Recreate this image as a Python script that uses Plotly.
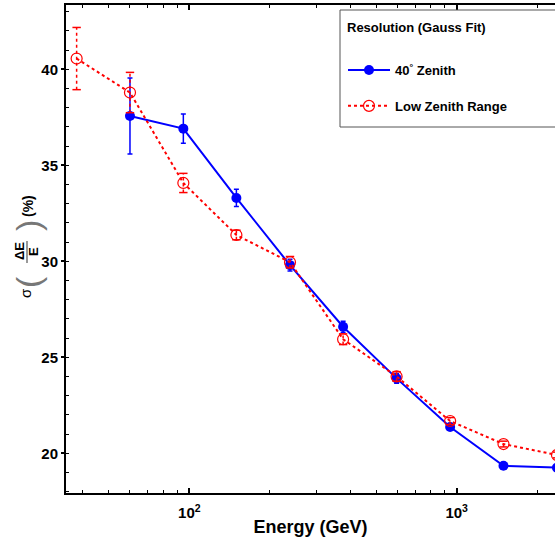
import plotly.graph_objects as go

# ---- data ----
energy_40 = [60, 95, 150, 238, 376, 596, 945, 1496, 2371]
sigma_40 = [37.57, 36.91, 33.30, 29.80, 26.59, 23.90, 21.37, 19.35, 19.25]
err_40 = [1.98, 0.76, 0.45, 0.30, 0.28, 0.25, 0.15, 0.10, 0.10]

energy_low = [37.9, 60, 95, 150, 238, 376, 596, 945, 1496, 2371]
sigma_low = [40.56, 38.79, 34.08, 31.37, 29.95, 25.94, 24.00, 21.68, 20.48, 19.91]
err_low = [1.62, 1.05, 0.50, 0.25, 0.30, 0.28, 0.25, 0.18, 0.15, 0.15]

name_40 = "40<sup>°</sup> Zenith"
name_low = "Low Zenith Range"
legend_title = "Resolution (Gauss Fit)"
x_title = "Energy (GeV)"
x_tickvals = [100, 1000]
x_ticktext = ["10<sup>2</sup>", "10<sup>3</sup>"]
x_minor = [40, 50, 60, 70, 80, 90, 200, 300, 400, 500, 600, 700, 800, 900, 2000, 3000]
y_tickvals = [20, 25, 30, 35, 40]

BLUE = "#0000ff"
RED = "#ff0000"
FONT = "Liberation Sans"

fig = go.Figure()

# blue series
fig.add_trace(go.Scatter(
    x=energy_40, y=sigma_40, mode="lines+markers", name=name_40,
    legendgroup="a",
    line=dict(color=BLUE, width=2),
    marker=dict(color=BLUE, size=10, symbol="circle"),
    error_y=dict(type="data", array=err_40, color=BLUE, thickness=1.5, width=2.5),
))

# red dashed error bars built from the data
ex, ey = [], []
for e, v, d in zip(energy_low, sigma_low, err_low):
    ex += [e, e, None]
    ey += [v - d, v + d, None]
fig.add_trace(go.Scatter(
    x=ex, y=ey, mode="lines", showlegend=False, hoverinfo="skip",
    line=dict(color=RED, width=1.5, dash="dot"),
))
cx, cy = [], []
for e, v, d in zip(energy_low, sigma_low, err_low):
    cx += [e, e]
    cy += [v - d, v + d]
fig.add_trace(go.Scatter(
    x=cx, y=cy, mode="markers", showlegend=False, hoverinfo="skip",
    marker=dict(symbol="line-ew-open", size=6, color=RED,
                line=dict(color=RED, width=1.5)),
))

# red series
fig.add_trace(go.Scatter(
    x=energy_low, y=sigma_low, mode="lines+markers", name=name_low,
    legendgroup="b",
    line=dict(color=RED, width=2, dash="dot"),
    marker=dict(color=RED, size=11, symbol="circle-open",
                line=dict(color=RED, width=1.2)),
))

L, R, T, B = 66, 0, 5, 47
W, H = 555, 540
pw, ph = W - L - R, H - T - B


def px(xp):
    return (xp - L) / pw


def py(yp):
    return (H - B - yp) / ph


fig.update_layout(
    width=W, height=H,
    margin=dict(l=L, r=R, t=T, b=B, autoexpand=False),
    paper_bgcolor="white", plot_bgcolor="white",
    font=dict(family=FONT, color="black"),
    showlegend=True,
    legend=dict(
        x=px(343), y=py(55), xanchor="left", yanchor="top",
        bgcolor="rgba(0,0,0,0)", borderwidth=0,
        font=dict(family=FONT, size=13, weight="bold", color="black"),
        tracegroupgap=16, traceorder="grouped", itemwidth=42,
    ),
    xaxis=dict(
        type="log", range=[1.5389, 3.3676],
        showline=True, linecolor="black", linewidth=2, mirror="ticks",
        ticks="inside", ticklen=5, tickwidth=1.5, tickcolor="black",
        tickvals=x_tickvals, ticktext=x_ticktext,
        tickfont=dict(family=FONT, size=15, weight="bold"),
        ticklabelstandoff=5,
        minor=dict(tickvals=x_minor, ticks="inside", ticklen=3,
                   tickwidth=1, tickcolor="black"),
        showgrid=False, zeroline=False,
        title=dict(text=x_title, font=dict(family=FONT, size=18, weight="bold"),
                   standoff=0),
    ),
    yaxis=dict(
        range=[17.93, 43.35],
        showline=True, linecolor="black", linewidth=2, mirror=False,
        ticks="outside", ticklen=3, tickwidth=1.5, tickcolor="black",
        tickvals=y_tickvals,
        tickfont=dict(family=FONT, size=15, weight="bold"),
        minor=dict(dtick=1, ticks="inside", ticklen=3, tickwidth=1,
                   tickcolor="black"),
        showgrid=False, zeroline=False,
    ),
)

# legend frame (extends past the right edge as in the reference) and title
fig.add_shape(type="rect", xref="paper", yref="paper",
              x0=px(340), x1=px(575), y0=py(127), y1=py(10),
              line=dict(color="#555555", width=1), fillcolor="white", layer="above")
fig.add_annotation(
    text=legend_title, xref="paper", yref="paper", x=px(345), y=py(28),
    xanchor="left", yanchor="middle", showarrow=False,
    font=dict(family=FONT, size=13, weight="bold", color="black"),
)

# y-axis title pieces (sigma, big parentheses, fraction, percent)
ann = [
    dict(text="σ", x=25, y=293, size=15, weight="normal", color="black"),
    dict(text="(", x=28, y=282, size=34, weight="normal", color="#777777"),
    dict(text="<b>ΔE</b>", x=20, y=251, size=13, weight="bold", color="black"),
    dict(text="<b>E</b>", x=34, y=252, size=13, weight="bold", color="black"),
    dict(text=")", x=28, y=226, size=34, weight="normal", color="#777777"),
    dict(text="<b>(%)</b>", x=28, y=206, size=14, weight="bold", color="black"),
]
for a in ann:
    fig.add_annotation(
        text=a["text"], xref="paper", yref="paper", x=px(a["x"]), y=py(a["y"]),
        xanchor="center", yanchor="middle", textangle=-90, showarrow=False,
        font=dict(family=FONT, size=a["size"], color=a["color"], weight=a["weight"]),
    )
fig.add_shape(type="line", xref="paper", yref="paper",
              x0=px(27), x1=px(27), y0=py(241), y1=py(263),
              line=dict(color="#777777", width=1.5))

fig.write_html("out.html", config={"displayModeBar": False},
               post_script=["document.body.style.margin='0px';"])
